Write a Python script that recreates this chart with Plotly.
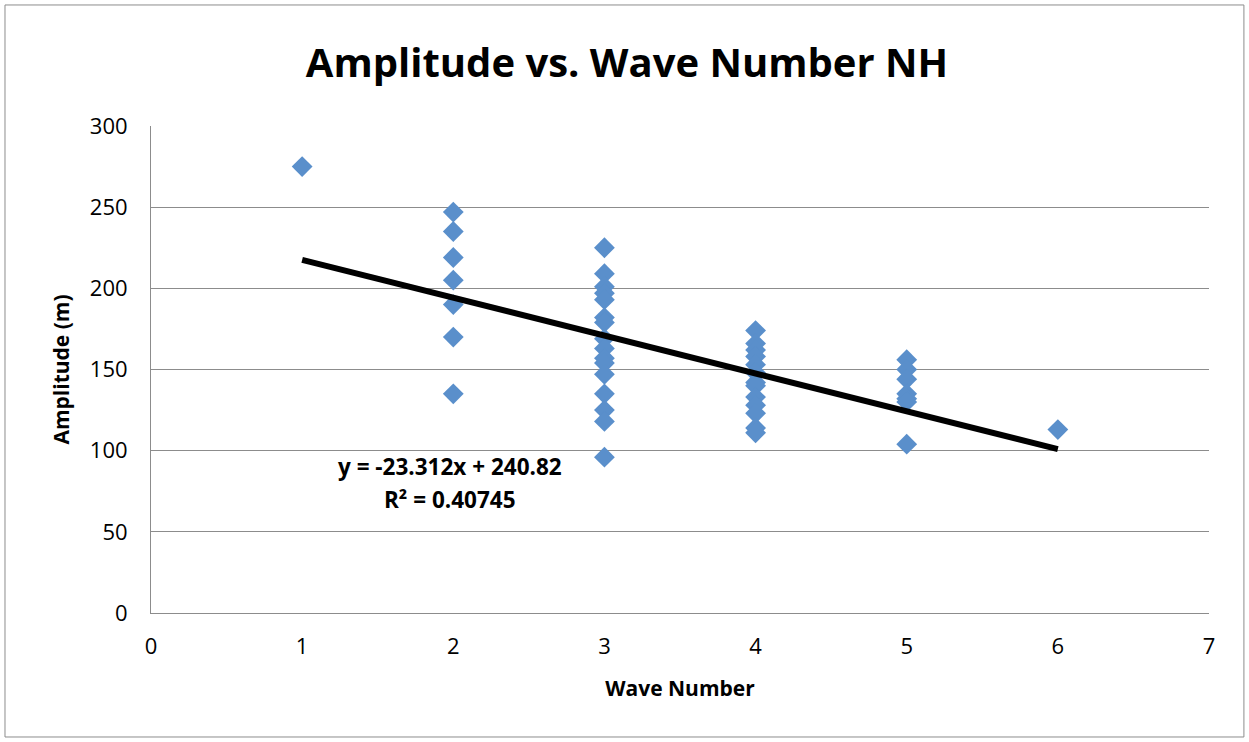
import plotly.graph_objects as go

wave1 = [1]
amp1 = [275]
wave2 = [2] * 7
amp2 = [247, 235, 219, 205, 190, 170, 135]
wave3 = [3] * 16
amp3 = [225, 209, 201, 197, 193, 182, 179, 169, 163, 157, 154, 147, 135, 125, 118, 96]
wave4 = [4] * 13
amp4 = [174, 166, 162, 158, 153, 148, 142, 140, 133, 128, 123, 114, 111]
wave5 = [5] * 7
amp5 = [156, 150, 144, 135, 132, 130, 104]
wave6 = [6]
amp6 = [113]

slope = -23.312
intercept = 240.82
trend_x = [1, 6]
trend_y = [slope * v + intercept for v in trend_x]

xs = wave1 + wave2 + wave3 + wave4 + wave5 + wave6
ys = amp1 + amp2 + amp3 + amp4 + amp5 + amp6

FONT = "Open Sans"

fig = go.Figure()
fig.add_trace(go.Scatter(
    x=xs, y=ys, mode="markers",
    marker=dict(symbol="diamond", size=16, color="#5A8FCB", line=dict(width=0)),
    showlegend=False,
))
fig.add_trace(go.Scatter(
    x=trend_x, y=trend_y, mode="lines",
    line=dict(color="black", width=6),
    showlegend=False,
))

fig.add_annotation(x=1.98, y=90.5, text="<b>y = -23.312x + 240.82</b>", showarrow=False,
                   font=dict(family=FONT, size=22.5, color="black"))
fig.add_annotation(x=1.98, y=69.8, text="<b>R² = 0.40745</b>", showarrow=False,
                   font=dict(family=FONT, size=22.5, color="black"))

fig.add_shape(type="rect", xref="paper", yref="paper",
              x0=-0.138, x1=1.033, y0=-0.2546, y1=1.2485,
              line=dict(color="#8c8c8c", width=1), layer="below")

fig.update_layout(
    width=1249, height=742,
    margin=dict(l=151, r=40, t=126, b=129),
    paper_bgcolor="white", plot_bgcolor="white",
    title=dict(text="<b>Amplitude vs. Wave Number NH</b>", x=0.502, xanchor="center",
               y=0.915, yanchor="middle",
               font=dict(family=FONT, size=40, color="black")),
    xaxis=dict(range=[0, 7], dtick=1, tick0=0, showgrid=False,
               showline=True, linecolor="#8c8c8c", linewidth=1,
               ticks="", zeroline=False, ticklabelstandoff=14,
               tickfont=dict(family=FONT, size=22, color="black"),
               title=dict(text="<b>Wave Number</b>", font=dict(family=FONT, size=21, color="black"), standoff=21)),
    yaxis=dict(range=[0, 300], dtick=50, tick0=0, showgrid=True, gridcolor="#8c8c8c", gridwidth=1,
               showline=True, linecolor="#8c8c8c", linewidth=1,
               ticks="", zeroline=False, ticklabelstandoff=18,
               tickfont=dict(family=FONT, size=22, color="black"),
               title=dict(text="<b>Amplitude (m)</b>", font=dict(family=FONT, size=21, color="black"), standoff=14)),
)

fig.write_html("out.html")
